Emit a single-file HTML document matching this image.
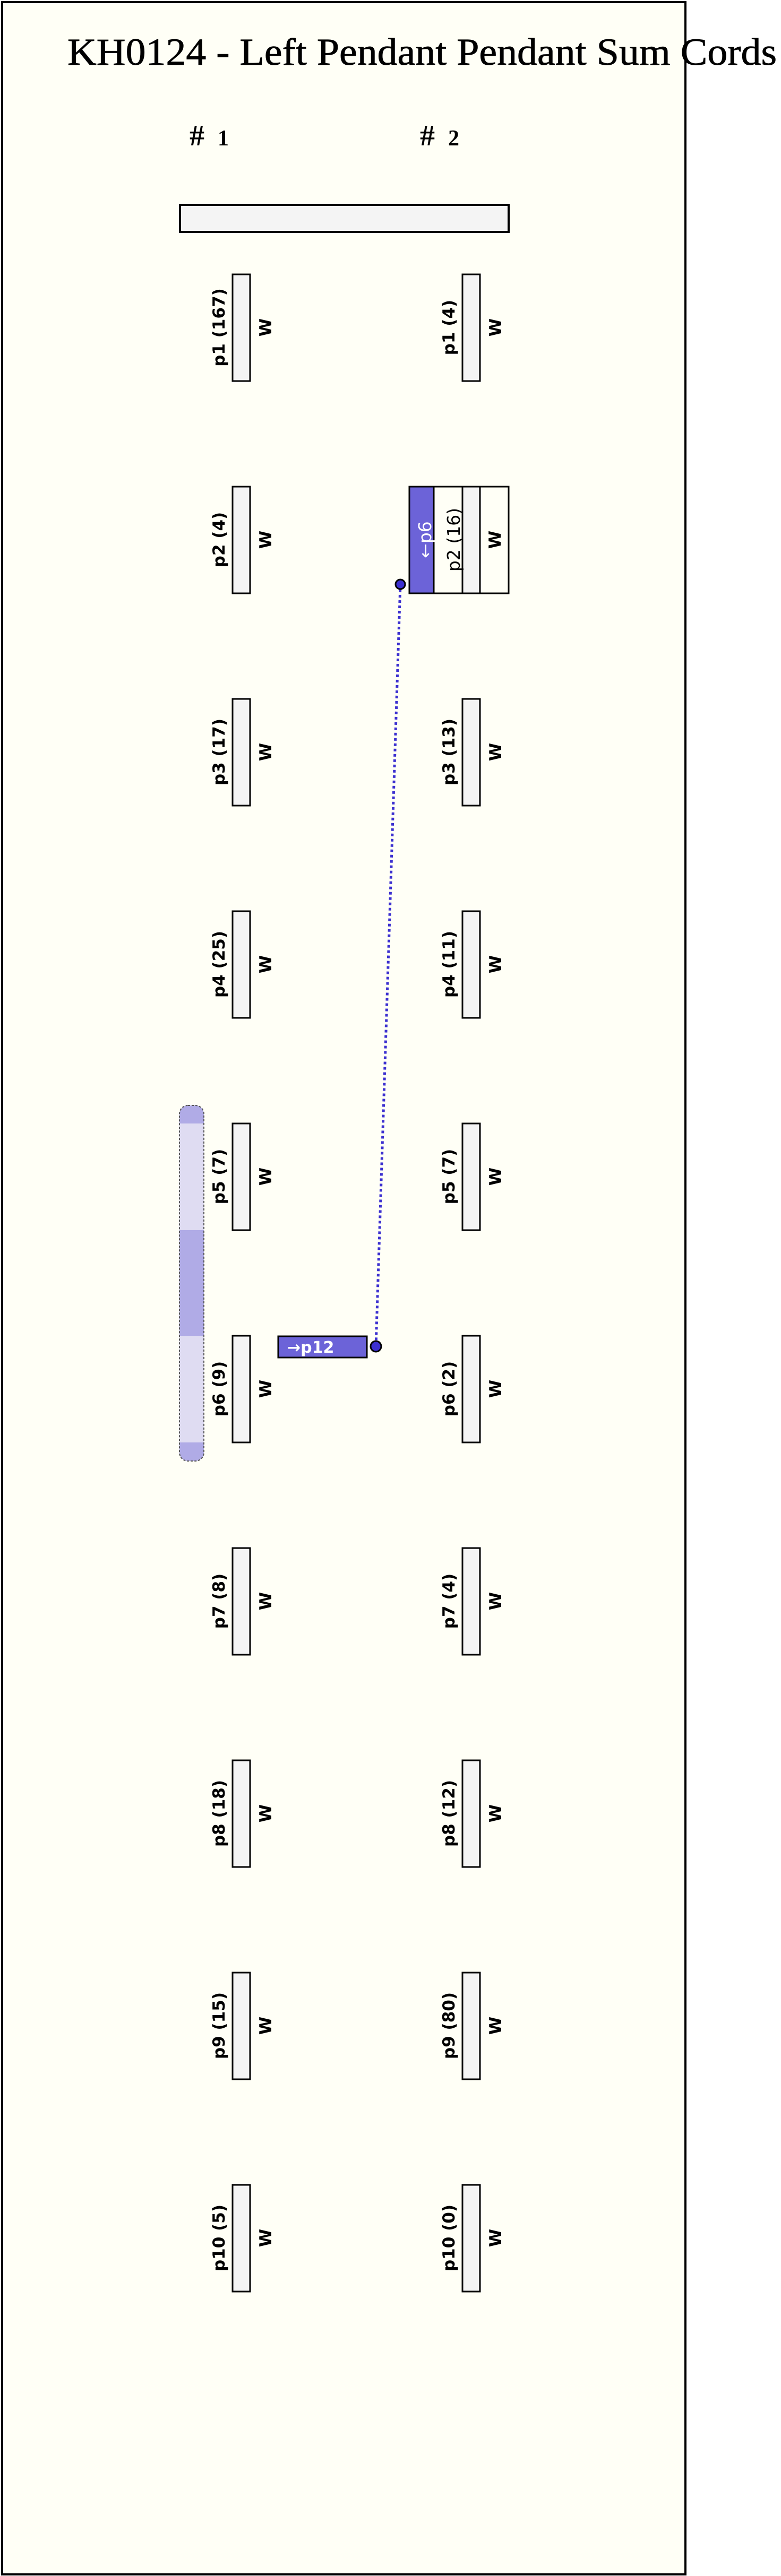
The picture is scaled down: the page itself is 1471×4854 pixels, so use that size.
<!DOCTYPE html>
<html><head><meta charset="utf-8"><style>
html,body{margin:0;padding:0;background:#fff;}
svg{display:block;}
.l{font-family:"DejaVu Sans","Liberation Sans",sans-serif;font-weight:bold;font-size:31px;fill:#000;}
</style></head><body>
<svg width="1471" height="4854" viewBox="0 0 1471 4854" xmlns="http://www.w3.org/2000/svg">
<rect x="0" y="0" width="1471" height="4854" fill="#ffffff"/>
<rect x="4" y="4" width="1287" height="4847" fill="#fffff6" stroke="#000" stroke-width="4"/>
<text x="127" y="122" textLength="1336" lengthAdjust="spacingAndGlyphs" font-family="Liberation Serif, serif" font-size="72" fill="#000" stroke="#000" stroke-width="0.8">KH0124 - Left Pendant Pendant Sum Cords</text>
<text x="357" y="274" font-family="Liberation Serif, serif" font-size="56" font-weight="bold" fill="#000">#</text>
<text x="410" y="274" font-family="Liberation Serif, serif" font-size="42" font-weight="bold" fill="#000">1</text>
<text x="791" y="274" font-family="Liberation Serif, serif" font-size="56" font-weight="bold" fill="#000">#</text>
<text x="844" y="274" font-family="Liberation Serif, serif" font-size="42" font-weight="bold" fill="#000">2</text>
<rect x="339" y="386" width="619" height="51" fill="#f4f4f4" stroke="#000" stroke-width="4"/>

<defs><clipPath id="cap"><rect x="338" y="2083" width="46" height="670" rx="16"/></clipPath></defs>
<g clip-path="url(#cap)">
<rect x="338" y="2083" width="46" height="670" fill="#dfdcf2"/>
<rect x="338" y="2083" width="46" height="34" fill="#b0abe6"/>
<rect x="338" y="2318" width="46" height="199" fill="#b0abe6"/>
<rect x="338" y="2718" width="46" height="35" fill="#b0abe6"/>
</g>
<rect x="338" y="2083" width="46" height="670" rx="16" fill="none" stroke="#555" stroke-width="2" stroke-dasharray="4 3"/>

<g>
<rect x="438" y="517" width="33" height="201" fill="#f4f4f4" stroke="#000" stroke-width="3"/>
<text class="l" transform="translate(423,617) rotate(-90)" text-anchor="middle">p1 (167)</text>
<text class="l" transform="translate(511,617) rotate(-90)" text-anchor="middle">W</text>
<rect x="438" y="917" width="33" height="201" fill="#f4f4f4" stroke="#000" stroke-width="3"/>
<text class="l" transform="translate(423,1017) rotate(-90)" text-anchor="middle">p2 (4)</text>
<text class="l" transform="translate(511,1017) rotate(-90)" text-anchor="middle">W</text>
<rect x="438" y="1317" width="33" height="201" fill="#f4f4f4" stroke="#000" stroke-width="3"/>
<text class="l" transform="translate(423,1417) rotate(-90)" text-anchor="middle">p3 (17)</text>
<text class="l" transform="translate(511,1417) rotate(-90)" text-anchor="middle">W</text>
<rect x="438" y="1717" width="33" height="201" fill="#f4f4f4" stroke="#000" stroke-width="3"/>
<text class="l" transform="translate(423,1817) rotate(-90)" text-anchor="middle">p4 (25)</text>
<text class="l" transform="translate(511,1817) rotate(-90)" text-anchor="middle">W</text>
<rect x="438" y="2117" width="33" height="201" fill="#f4f4f4" stroke="#000" stroke-width="3"/>
<text class="l" transform="translate(423,2217) rotate(-90)" text-anchor="middle">p5 (7)</text>
<text class="l" transform="translate(511,2217) rotate(-90)" text-anchor="middle">W</text>
<rect x="438" y="2517" width="33" height="201" fill="#f4f4f4" stroke="#000" stroke-width="3"/>
<text class="l" transform="translate(423,2617) rotate(-90)" text-anchor="middle">p6 (9)</text>
<text class="l" transform="translate(511,2617) rotate(-90)" text-anchor="middle">W</text>
<rect x="438" y="2917" width="33" height="201" fill="#f4f4f4" stroke="#000" stroke-width="3"/>
<text class="l" transform="translate(423,3017) rotate(-90)" text-anchor="middle">p7 (8)</text>
<text class="l" transform="translate(511,3017) rotate(-90)" text-anchor="middle">W</text>
<rect x="438" y="3317" width="33" height="201" fill="#f4f4f4" stroke="#000" stroke-width="3"/>
<text class="l" transform="translate(423,3417) rotate(-90)" text-anchor="middle">p8 (18)</text>
<text class="l" transform="translate(511,3417) rotate(-90)" text-anchor="middle">W</text>
<rect x="438" y="3717" width="33" height="201" fill="#f4f4f4" stroke="#000" stroke-width="3"/>
<text class="l" transform="translate(423,3817) rotate(-90)" text-anchor="middle">p9 (15)</text>
<text class="l" transform="translate(511,3817) rotate(-90)" text-anchor="middle">W</text>
<rect x="438" y="4117" width="33" height="201" fill="#f4f4f4" stroke="#000" stroke-width="3"/>
<text class="l" transform="translate(423,4217) rotate(-90)" text-anchor="middle">p10 (5)</text>
<text class="l" transform="translate(511,4217) rotate(-90)" text-anchor="middle">W</text>

<rect x="871" y="517" width="33" height="201" fill="#f4f4f4" stroke="#000" stroke-width="3"/>
<text class="l" transform="translate(856,617) rotate(-90)" text-anchor="middle">p1 (4)</text>
<text class="l" transform="translate(944,617) rotate(-90)" text-anchor="middle">W</text>
<rect x="771" y="917" width="187" height="201" fill="#fffff6" stroke="#000" stroke-width="3"/>
<rect x="771" y="917" width="46" height="201" fill="#6c63d8" stroke="#000" stroke-width="3"/>
<rect x="871" y="917" width="33" height="201" fill="#f4f4f4" stroke="#000" stroke-width="3"/>
<text class="l" style="fill:#fff;font-weight:normal;font-size:33px" transform="translate(812,1017) rotate(-90)" text-anchor="middle">←p6</text>
<text class="l" style="font-weight:normal;font-size:33px" transform="translate(866,1017) rotate(-90)" text-anchor="middle">p2 (16)</text>
<text class="l" transform="translate(943,1017) rotate(-90)" text-anchor="middle">W</text>
<rect x="871" y="1317" width="33" height="201" fill="#f4f4f4" stroke="#000" stroke-width="3"/>
<text class="l" transform="translate(856,1417) rotate(-90)" text-anchor="middle">p3 (13)</text>
<text class="l" transform="translate(944,1417) rotate(-90)" text-anchor="middle">W</text>
<rect x="871" y="1717" width="33" height="201" fill="#f4f4f4" stroke="#000" stroke-width="3"/>
<text class="l" transform="translate(856,1817) rotate(-90)" text-anchor="middle">p4 (11)</text>
<text class="l" transform="translate(944,1817) rotate(-90)" text-anchor="middle">W</text>
<rect x="871" y="2117" width="33" height="201" fill="#f4f4f4" stroke="#000" stroke-width="3"/>
<text class="l" transform="translate(856,2217) rotate(-90)" text-anchor="middle">p5 (7)</text>
<text class="l" transform="translate(944,2217) rotate(-90)" text-anchor="middle">W</text>
<rect x="871" y="2517" width="33" height="201" fill="#f4f4f4" stroke="#000" stroke-width="3"/>
<text class="l" transform="translate(856,2617) rotate(-90)" text-anchor="middle">p6 (2)</text>
<text class="l" transform="translate(944,2617) rotate(-90)" text-anchor="middle">W</text>
<rect x="871" y="2917" width="33" height="201" fill="#f4f4f4" stroke="#000" stroke-width="3"/>
<text class="l" transform="translate(856,3017) rotate(-90)" text-anchor="middle">p7 (4)</text>
<text class="l" transform="translate(944,3017) rotate(-90)" text-anchor="middle">W</text>
<rect x="871" y="3317" width="33" height="201" fill="#f4f4f4" stroke="#000" stroke-width="3"/>
<text class="l" transform="translate(856,3417) rotate(-90)" text-anchor="middle">p8 (12)</text>
<text class="l" transform="translate(944,3417) rotate(-90)" text-anchor="middle">W</text>
<rect x="871" y="3717" width="33" height="201" fill="#f4f4f4" stroke="#000" stroke-width="3"/>
<text class="l" transform="translate(856,3817) rotate(-90)" text-anchor="middle">p9 (80)</text>
<text class="l" transform="translate(944,3817) rotate(-90)" text-anchor="middle">W</text>
<rect x="871" y="4117" width="33" height="201" fill="#f4f4f4" stroke="#000" stroke-width="3"/>
<text class="l" transform="translate(856,4217) rotate(-90)" text-anchor="middle">p10 (0)</text>
<text class="l" transform="translate(944,4217) rotate(-90)" text-anchor="middle">W</text>
</g>

<line x1="754" y1="1101" x2="708" y2="2537" stroke="#3c30d0" stroke-width="5" stroke-dasharray="5 5"/>
<circle cx="754" cy="1101" r="9" fill="#3c30d0" stroke="#000" stroke-width="3"/>
<rect x="524" y="2518" width="167" height="40" fill="#6c63d8" stroke="#000" stroke-width="3"/>
<text x="541" y="2549" font-family="DejaVu Sans, sans-serif" font-weight="bold" font-size="30" fill="#fff">→p12</text>
<circle cx="708" cy="2537" r="10" fill="#3c30d0" stroke="#000" stroke-width="3"/>
</svg>
</body></html>
